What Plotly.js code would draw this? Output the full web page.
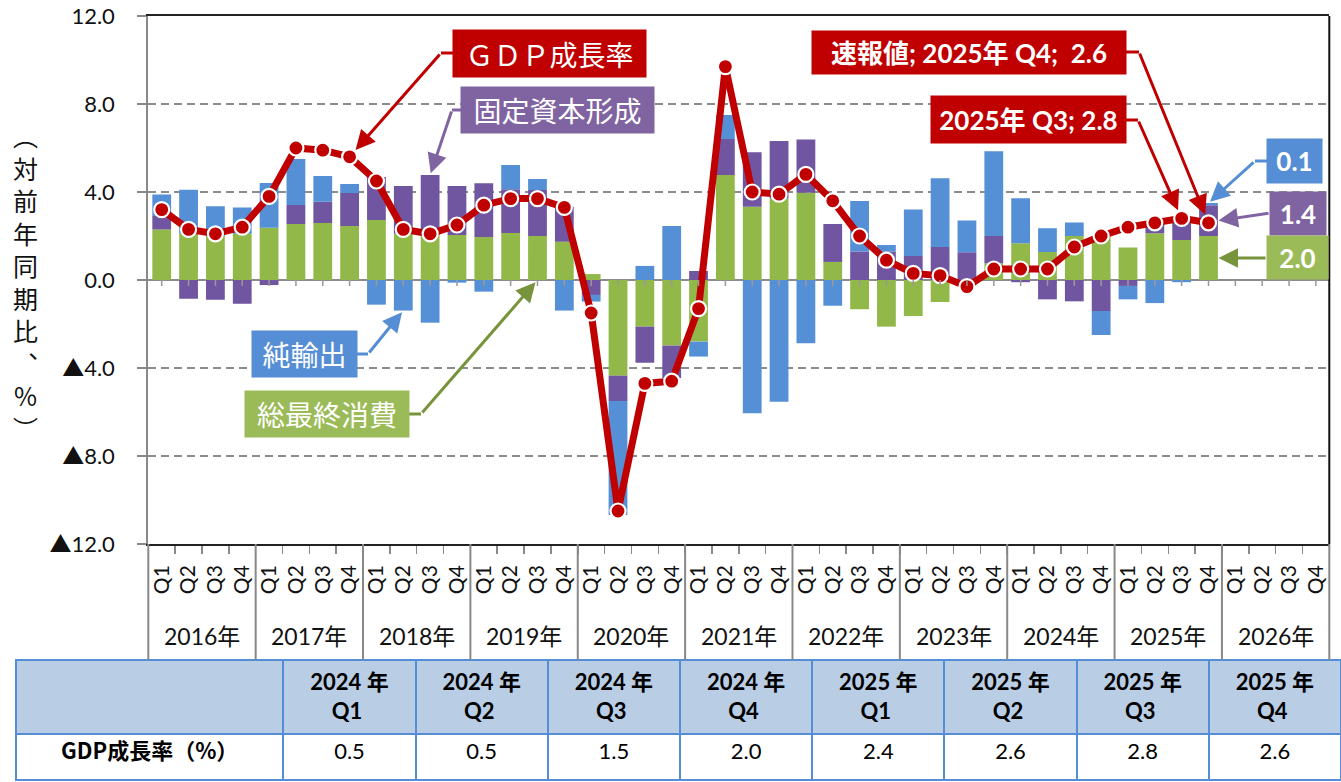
<!DOCTYPE html>
<html><head><meta charset="utf-8">
<script src="https://cdn.plot.ly/plotly-3.0.1.min.js"></script>
<style>html,body{margin:0;padding:0;background:#fff;overflow:hidden}#chart{width:1341px;height:782px}</style>
</head><body><div id="chart"></div>
<script>
// ---- data ----
const years = ['2016','2017','2018','2019','2020','2021','2022','2023','2024','2025','2026'];
const quarters = ['Q1','Q2','Q3','Q4'];
// 総最終消費 (final consumption contribution)
const consumption = [2.3, 2.1, 2.0, 2.1, 2.38, 2.55, 2.59, 2.45, 2.73, 2.1, 2.04, 2.05, 1.95, 2.14, 2.0, 1.74,
  0.27, -4.35, -2.12, -2.98, -2.8, 4.77, 3.33, 3.7, 3.97, 0.82, -1.33, -2.12, -1.64, -1.0, -0.27, 0.76,
  1.67, 1.27, 2.0, 2.0, 1.48, 2.12, 1.82, 2.0, null, null, null, null];
// 固定資本形成 (fixed capital formation contribution)
const investment = [0.64, -0.85, -0.9, -1.08, -0.23, 0.86, 0.97, 1.5, 1.95, 2.17, 2.73, 2.22, 2.45, 1.98, 2.09, 1.59,
  -0.68, -1.15, -1.64, -1.48, 0.41, 1.64, 2.48, 2.62, 2.42, 1.73, 1.29, 1.3, 1.09, 1.5, 1.26, 1.24,
  -0.1, -0.88, -0.97, -1.41, -0.27, 0.41, 0.94, 1.4, null, null, null, null];
// 純輸出 (net exports contribution)
const netExports = [0.95, 2.0, 1.35, 1.2, 2.03, 2.09, 1.17, 0.41, -1.12, -1.39, -1.94, -0.12, -0.53, 1.11, 0.5, -1.39,
  -0.3, -5.18, 0.64, 2.45, -0.68, 1.09, -6.06, -5.53, -2.88, -1.17, 2.3, 0.29, 2.12, 3.12, 1.45, 3.85,
  2.05, 1.08, 0.61, -1.09, -0.61, -1.05, -0.1, 0.1, null, null, null, null];
// GDP成長率 (YoY %)
const gdpGrowth = [3.2, 2.3, 2.1, 2.4, 3.8, 6.0, 5.9, 5.6, 4.5, 2.3, 2.1, 2.5, 3.4, 3.7, 3.7, 3.3,
  -1.5, -10.5, -4.7, -4.6, -1.3, 9.7, 4.0, 3.9, 4.8, 3.6, 2.0, 0.9, 0.3, 0.2, -0.3, 0.5,
  0.5, 0.5, 1.5, 2.0, 2.4, 2.6, 2.8, 2.6, null, null, null, null];
const yTickVals = [-12, -8, -4, 0, 4, 8, 12];
const yTickText = ['▲12.0', '▲8.0', '▲4.0', '0.0', '4.0', '8.0', '12.0'];
const tableFirst = 32; // 2024 Q1
const tableCount = 8;

// ---- geometry helpers (pixels -> paper) ----
const W = 1341, H = 782;
const X0 = 148.3, X1 = 1329.3, Y0 = 16, Y1 = 544;
const yMin = -12, yMax = 12;
const nQ = quarters.length;
const nCat = years.length * nQ;
const fx = p => p / W, fy = p => 1 - p / H;
const catPx = i => X0 + (i + 0.5) * (X1 - X0) / nCat;
const valPx = v => Y0 + (yMax - v) / (yMax - yMin) * (Y1 - Y0);

const NB = '\u00a0';
const xCat = [], xQuarter = [], xYear = [];
years.forEach(y => quarters.forEach(q => { xCat.push(y + '年' + q); xQuarter.push(q); xYear.push(y); }));

const RED = '#c00000', PURPLE = '#8064a2', BLUE = '#558ed5', GREEN = '#9bbb59', DGREEN = '#77933c';
const NUMFONT = 'Lato, "Noto Sans CJK JP", sans-serif';
const JPFONT = '"Noto Sans CJK JP", sans-serif';

const traces = [
  {type: 'bar', name: '総最終消費', x: xCat, y: consumption, marker: {color: '#93b84a'}, hoverinfo: 'skip'},
  {type: 'bar', name: '固定資本形成', x: xCat, y: investment, marker: {color: '#7056a0'}, hoverinfo: 'skip'},
  {type: 'bar', name: '純輸出', x: xCat, y: netExports, marker: {color: '#5590d6'}, hoverinfo: 'skip'},
  {type: 'scatter', mode: 'lines+markers', name: 'GDP成長率', x: xCat, y: gdpGrowth,
   line: {color: RED, width: 7}, marker: {color: RED, size: 15, line: {color: '#fff', width: 2.2}},
   connectgaps: false, hoverinfo: 'skip'},
  {type: 'table', domain: {x: [fx(16), 1], y: [0, fy(660)]},
   columnwidth: [269].concat(Array(tableCount).fill(133)),
   header: {
     values: [['']].concat(xYear.slice(tableFirst, tableFirst + tableCount).map((y, k) =>
       [y + ' 年<br>' + NB.repeat(4) + xQuarter[tableFirst + k]])),
     fill: {color: '#b9cde5'}, line: {color: BLUE, width: 2}, align: 'center', height: 74,
     font: {family: NUMFONT, size: 22, color: '#000', weight: 'bold'}
   },
   cells: {
     values: [['GDP成長率（%）']].concat(gdpGrowth.slice(tableFirst, tableFirst + tableCount).map(v => [v.toFixed(1)])),
     fill: {color: '#fff'}, line: {color: BLUE, width: 2}, align: 'center', height: 46,
     font: {family: [JPFONT].concat(Array(tableCount).fill(NUMFONT)), size: 22, color: '#000',
            weight: ['bold'].concat(Array(tableCount).fill('normal'))}
   }
  }
];

function box(x0, y0, x1, y1, text, bg, font) {
  return {xref: 'paper', yref: 'paper', x: fx((x0 + x1) / 2), y: fy((y0 + y1) / 2), xanchor: 'center', yanchor: 'middle',
    width: x1 - x0, height: y1 - y0, bgcolor: bg, borderpad: 0, showarrow: false, text: text, align: 'center', valign: 'middle',
    font: font};
}
function arrow(tailX, tailY, i, v, color, standoff, xshift) {
  return {xref: 'x domain', yref: 'y', x: (i + 0.5) / nCat, y: v, axref: 'pixel', ayref: 'pixel',
    ax: tailX - (catPx(i) + (xshift || 0)), ay: tailY - valPx(v), xshift: xshift || 0,
    text: '', showarrow: true, arrowcolor: color, arrowwidth: 3, arrowhead: 2, arrowsize: 1.3, standoff: standoff || 0};
}
function stub(x0, y0, x1, y1, color) {
  return {type: 'line', xref: 'paper', yref: 'paper', x0: fx(x0), y0: fy(y0), x1: fx(x1), y1: fy(y1), line: {color: color, width: 3}};
}
const jpW = {family: JPFONT, size: 28, color: '#fff'};
const boldW = {family: NUMFONT, size: 26, color: '#fff', weight: 'bold'};

const iQ4 = 39, iQ3 = 38;
const annotations = [
  box(453, 30, 646, 77, 'ＧＤＰ成長率', RED, jpW),
  arrow(441, 53, 7, gdpGrowth[7], RED, 9),
  box(461, 87, 654, 133, '固定資本形成', PURPLE, jpW),
  arrow(452, 110, 10, consumption[10] + investment[10], PURPLE, 2),
  box(252, 331, 357, 377, '純輸出', BLUE, jpW),
  arrow(368, 354, 9, netExports[9], BLUE, 2),
  box(245, 391, 409, 437, '総最終消費', GREEN, jpW),
  arrow(421, 414, 14, 0, DGREEN, 3),
  box(812, 31, 1126, 74, '<b>速報値; ' + years[9] + '年 Q4;  ' + gdpGrowth[iQ4].toFixed(1) + '</b>', RED, boldW),
  arrow(1139, 52, iQ4, gdpGrowth[iQ4], RED, 9),
  box(931, 96, 1126, 143, '<b>' + years[9] + '年 Q3; ' + gdpGrowth[iQ3].toFixed(1) + '</b>', RED, boldW),
  arrow(1138, 120, iQ3, gdpGrowth[iQ3], RED, 9),
  box(1267, 139, 1322, 183, '<b>' + netExports[iQ4].toFixed(1) + '</b>', BLUE, boldW),
  arrow(1255, 161, iQ4, consumption[iQ4] + investment[iQ4] + netExports[iQ4], BLUE, 2),
  box(1270, 192, 1326, 235, '<b>' + investment[iQ4].toFixed(1) + '</b>', PURPLE, boldW),
  arrow(1270, 213, iQ4, consumption[iQ4] + investment[iQ4] / 2, PURPLE, 0, 10),
  box(1267, 236, 1328, 279, '<b>' + consumption[iQ4].toFixed(1) + '</b>', GREEN, boldW),
  arrow(1267, 258, iQ4, consumption[iQ4] / 2, DGREEN, 0, 10),
  // vertical y-axis title
  {xref: 'paper', yref: 'paper', x: fx(25), y: fy(281), xanchor: 'center', yanchor: 'middle', showarrow: false,
   text: ['︵', '対', '前', '年', '同', '期', '比', '︑', '%', '︶'].join('<br>'), align: 'center',
   font: {family: JPFONT, size: 25, color: '#111'}}
];
// year group labels under the quarter labels
years.forEach((y, k) => annotations.push({xref: 'x domain', yref: 'paper', x: (k * nQ + nQ / 2) / nCat, y: fy(636),
  xanchor: 'center', yanchor: 'middle', showarrow: false, text: y + '年', font: {family: NUMFONT, size: 23, color: '#111'}}));

const shapes = [
  stub(453, 53, 441, 53, RED), stub(461, 110, 452, 110, PURPLE), stub(357, 354, 368, 354, BLUE),
  stub(409, 414, 421, 414, DGREEN), stub(1126, 52, 1139, 52, RED), stub(1126, 120, 1138, 120, RED),
  stub(1267, 161, 1255, 161, BLUE),
  {type: 'line', xref: 'x domain', yref: 'y domain', x0: 1, x1: 1, y0: 0, y1: 1, line: {color: '#111', width: 2}}
];
// year dividers below the axis
for (let k = 0; k <= years.length; k++) {
  shapes.push({type: 'line', xref: 'x domain', yref: 'paper', x0: k * nQ / nCat, x1: k * nQ / nCat,
    y0: fy(Y1), y1: fy(660), line: {color: '#888', width: 2}});
}
// small tick marks hanging from the zero line at each category
let zp = '';
for (let i = 0; i < nCat; i++) { const xx = (i + 0.5) / nCat; zp += `M${xx},0 L${xx},${-6 * (yMax - yMin) / (Y1 - Y0)} `; }
shapes.push({type: 'path', xref: 'x domain', yref: 'y', path: zp, line: {color: '#999', width: 1.5}});

const xd = [fx(X0), fx(X1)], yd = [fy(Y1), fy(Y0)];
const layout = {
  width: W, height: H, margin: {l: 0, r: 0, t: 0, b: 0}, paper_bgcolor: '#fff', plot_bgcolor: '#fff',
  showlegend: false, barmode: 'relative', bargap: 0.3, hovermode: false,
  xaxis: {type: 'category', domain: xd, anchor: 'y', categoryorder: 'array', categoryarray: xCat,
    range: [-0.5, nCat - 0.5], autorange: false,
    tickmode: 'array', tickvals: xCat, ticktext: xQuarter.map(q => q + NB + NB),
    showline: true, linecolor: '#222', linewidth: 2, mirror: true,
    ticks: 'outside', tickson: 'boundaries', ticklen: 8, tickcolor: '#888', tickwidth: 1.5,
    tickangle: -90, tickfont: {family: NUMFONT, size: 21, color: '#111'},
    showgrid: false, zeroline: false},
  yaxis: {domain: yd, anchor: 'x', range: [yMin, yMax], tickvals: yTickVals, ticktext: yTickText,
    showline: true, linecolor: '#888', linewidth: 2, ticks: 'outside', ticklen: 9, tickcolor: '#888', tickwidth: 1.5,
    ticklabelstandoff: 18, tickfont: {family: NUMFONT, size: 22, color: '#111'},
    showgrid: true, gridcolor: '#8c8c8c', gridwidth: 1.5, griddash: '8px,5px',
    zeroline: true, zerolinecolor: '#8c8c8c', zerolinewidth: 2},
  annotations: annotations, shapes: shapes
};
Plotly.newPlot('chart', traces, layout, {displayModeBar: false, staticPlot: true});
</script></body></html>
